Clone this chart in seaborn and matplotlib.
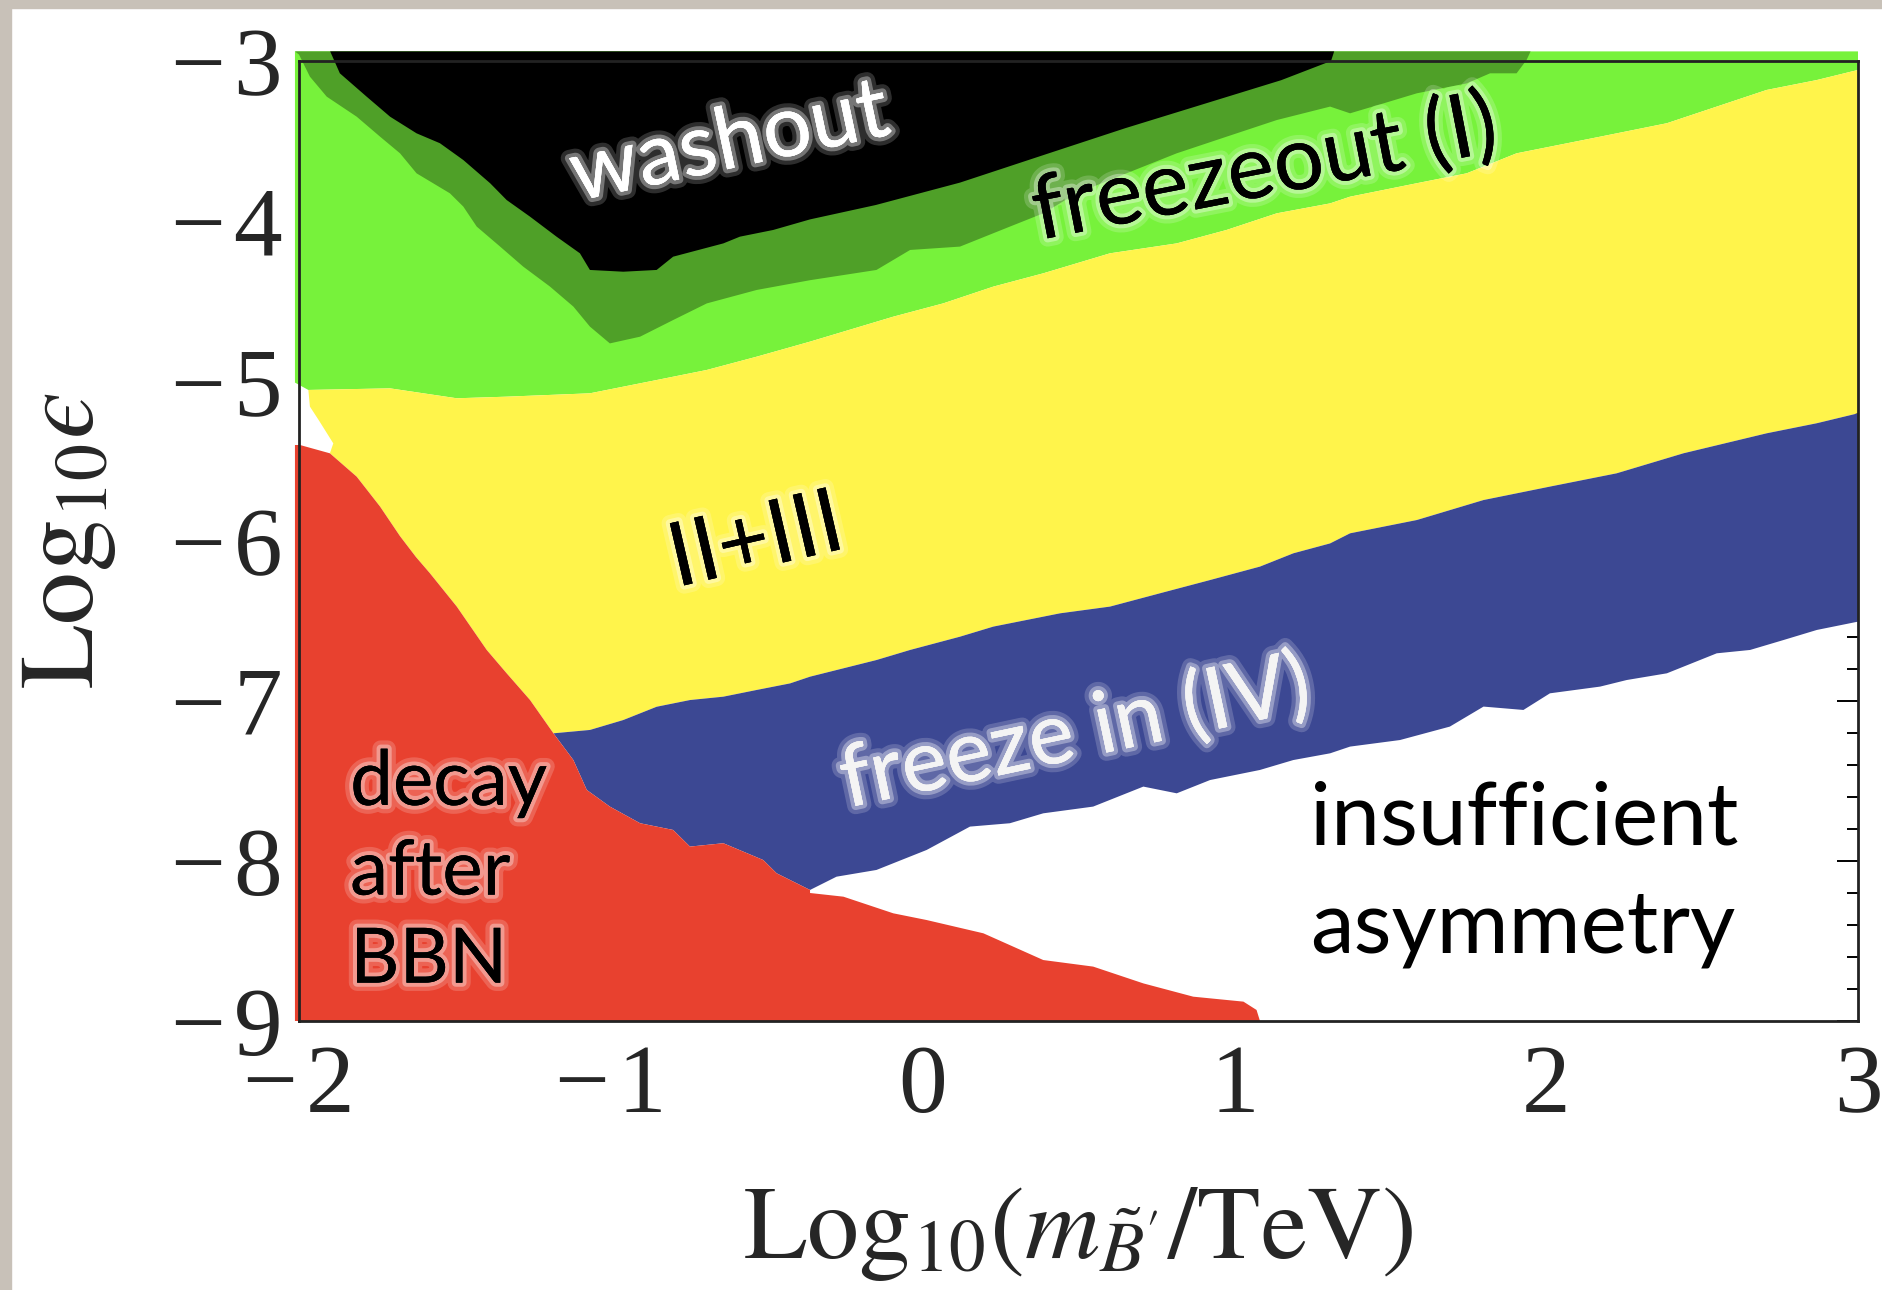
import matplotlib
matplotlib.use("Agg")
import matplotlib.pyplot as plt
import matplotlib.patheffects as pe
from matplotlib.patches import Rectangle
from matplotlib.ticker import MultipleLocator, FuncFormatter
import seaborn as sns
import numpy as np

# region boundaries, points are (log10 m, log10 eps)
# green / yellow interface
yel_top = [(-1.970, -5.056), (-1.708, -5.046), (-1.494, -5.108), (-1.334, -5.098),
           (-1.067, -5.077), (-0.853, -4.994), (-0.692, -4.931), (-0.532, -4.848),
           (-0.361, -4.754), (-0.094, -4.598), (0.066, -4.515), (0.227, -4.410),
           (0.387, -4.327), (0.601, -4.202), (0.815, -4.140), (0.975, -4.056),
           (1.136, -3.952), (1.307, -3.890), (1.371, -3.848), (1.585, -3.764),
           (1.745, -3.702), (1.905, -3.577), (2.173, -3.473), (2.387, -3.389),
           (2.547, -3.285), (2.707, -3.181), (2.868, -3.119), (3.000, -3.056)]
# yellow / blue interface
yel_bot = [(-1.184, -7.202), (-1.067, -7.181), (-0.960, -7.119), (-0.853, -7.036),
           (-0.746, -6.994), (-0.639, -6.973), (-0.532, -6.931), (-0.425, -6.890),
           (-0.361, -6.848), (-0.148, -6.744), (-0.040, -6.681), (0.120, -6.598),
           (0.227, -6.535), (0.441, -6.452), (0.601, -6.410), (0.761, -6.327),
           (0.922, -6.244), (1.082, -6.160), (1.189, -6.077), (1.307, -6.015),
           (1.371, -5.952), (1.585, -5.869), (1.799, -5.744), (2.012, -5.660),
           (2.226, -5.577), (2.440, -5.452), (2.707, -5.327), (2.868, -5.264),
           (3.000, -5.202)]
# white gap between axis and yellow
yel_left = [(-1.890, -5.390), (-1.935, -5.250), (-1.965, -5.160)]
# blue / white interface
blue_bot = [(-0.361, -8.181), (-0.276, -8.098), (-0.148, -8.056), (0.013, -7.931),
            (0.152, -7.785), (0.280, -7.764), (0.387, -7.702), (0.547, -7.660),
            (0.708, -7.535), (0.815, -7.577), (0.922, -7.494), (1.082, -7.431),
            (1.189, -7.369), (1.307, -7.327), (1.371, -7.285), (1.531, -7.244),
            (1.691, -7.160), (1.799, -7.035), (1.927, -7.056), (2.012, -6.952),
            (2.173, -6.910), (2.258, -6.869), (2.387, -6.827), (2.547, -6.702),
            (2.654, -6.681), (2.761, -6.619), (2.868, -6.556), (3.000, -6.504)]
# red edge: against yellow, against blue, against white
red_upper = [(-1.997, -5.400), (-1.901, -5.452), (-1.815, -5.598), (-1.740, -5.785),
             (-1.676, -5.970), (-1.625, -6.100), (-1.580, -6.202), (-1.494, -6.410),
             (-1.398, -6.681), (-1.334, -6.827), (-1.259, -6.994), (-1.184, -7.202)]
red_blue = [(-1.184, -7.202), (-1.120, -7.369), (-1.077, -7.556), (-1.003, -7.660),
            (-0.906, -7.764), (-0.800, -7.806), (-0.746, -7.910), (-0.639, -7.889),
            (-0.511, -7.994), (-0.468, -8.077), (-0.361, -8.181)]
red_white = [(-0.361, -8.200), (-0.254, -8.223), (-0.094, -8.327), (0.013, -8.369),
             (0.195, -8.452), (0.387, -8.619), (0.547, -8.660), (0.708, -8.765),
             (0.868, -8.848), (1.029, -8.879), (1.071, -8.931), (1.082, -9.000)]
# lower edge of the dark green band
dark_bot = [(-2.000, -2.960), (-1.965, -3.098), (-1.911, -3.223), (-1.815, -3.348),
            (-1.740, -3.473), (-1.676, -3.577), (-1.623, -3.702), (-1.516, -3.827),
            (-1.473, -3.910), (-1.430, -4.035), (-1.355, -4.160), (-1.281, -4.285),
            (-1.195, -4.410), (-1.120, -4.535), (-1.067, -4.660), (-1.003, -4.765),
            (-0.906, -4.723), (-0.800, -4.619), (-0.692, -4.515), (-0.532, -4.431),
            (-0.361, -4.370), (-0.148, -4.306), (-0.040, -4.181), (0.120, -4.160),
            (0.280, -4.035), (0.387, -3.952), (0.494, -3.827), (0.654, -3.702),
            (0.815, -3.577), (0.975, -3.473), (1.136, -3.369), (1.307, -3.285),
            (1.371, -3.327), (1.478, -3.265), (1.585, -3.202), (1.745, -3.140),
            (1.820, -3.077), (1.905, -3.077), (1.937, -2.994), (1.950, -2.940)]
# lower edge of washout
black_bot = [(-1.900, -2.940), (-1.869, -3.077), (-1.783, -3.223), (-1.708, -3.348),
             (-1.623, -3.452), (-1.548, -3.514), (-1.473, -3.619), (-1.387, -3.764),
             (-1.334, -3.869), (-1.259, -3.973), (-1.174, -4.098), (-1.099, -4.202),
             (-1.067, -4.306), (-0.960, -4.317), (-0.853, -4.306), (-0.800, -4.223),
             (-0.639, -4.140), (-0.586, -4.098), (-0.479, -4.056), (-0.361, -3.990),
             (-0.150, -3.900), (0.120, -3.760), (0.400, -3.580), (0.650, -3.420),
             (0.900, -3.270), (1.150, -3.120), (1.310, -3.000), (1.320, -2.940)]

# plot edges (dots spill a little past the frame at top and left)
x_lo, x_hi, y_lo, y_top = -2.013, 3.0, -9.0, -2.94

sns.set_theme(style="white")
plt.rcParams["font.family"] = ["Lato", "DejaVu Sans"]
plt.rcParams["mathtext.fontset"] = "stix"

fig = plt.figure(figsize=(18.83, 12.90), dpi=100)
fig.patches.append(Rectangle((0, 0), 11 / 1883, 1, transform=fig.transFigure,
                             color="#c8c1b8", zorder=0))
fig.patches.append(Rectangle((0, 1 - 8 / 1290), 1, 8 / 1290, transform=fig.transFigure,
                             color="#c8c1b8", zorder=0))
ax = fig.add_axes([0.15879, 0.20853, 0.82793, 0.74419])

A = np.array
green = np.vstack([[(x_lo, y_top), (x_hi, y_top)], A(yel_top)[::-1], [(x_lo, -5.01)]])
dark = np.vstack([[(x_lo, y_top)], A(dark_bot)])
black = A(black_bot)
yellow = np.vstack([A(yel_top), A(yel_bot)[::-1], A(red_upper)[:0:-1], A(yel_left)])
blue = np.vstack([A(yel_bot), A(blue_bot)[::-1], A(red_blue)[::-1]])
red = np.vstack([[(x_lo, y_lo), (x_lo, -5.40)], A(red_upper), A(red_blue)[1:], A(red_white)])

for poly, col in [(green, "#77f23b"), (dark, "#4fa028"), (black, "#000000"),
                  (yellow, "#fff44b"), (blue, "#3c4893"), (red, "#e8412f")]:
    ax.fill(poly[:, 0], poly[:, 1], color=col, lw=0, clip_on=False, zorder=1)

ax.set_xlim(-2, 3)
ax.set_ylim(-9, -3)
ax.xaxis.set_major_locator(MultipleLocator(1))
ax.yaxis.set_major_locator(MultipleLocator(1))
ax.xaxis.set_minor_locator(MultipleLocator(0.2))
ax.yaxis.set_minor_locator(MultipleLocator(0.2))
# minus with a hair space before the digit, as in the original tick labels
fmt = FuncFormatter(lambda v, p: f"\u2212\u200a{abs(round(v))}" if v < 0 else f"{round(v)}")
ax.xaxis.set_major_formatter(fmt)
ax.yaxis.set_major_formatter(fmt)
ax.tick_params(which="both", direction="in", top=True, right=True, color="black",
               width=1.4, labelsize=70)
for lab in ax.get_xticklabels() + ax.get_yticklabels():
    lab.set_fontfamily(["Liberation Serif", "DejaVu Serif"])
ax.tick_params(which="major", length=15)
ax.tick_params(which="minor", length=8)
ax.tick_params(axis="x", pad=17)
ax.tick_params(axis="y", pad=12)
for s in ax.spines.values():
    s.set_linewidth(2)
    s.set_color("#222222")
    s.set_zorder(3)

ax.set_xlabel(r"$\mathrm{Log}_{10}(m_{\tilde{B}^{\prime}}/\mathrm{TeV})$", fontsize=75)
ax.set_ylabel("$\\mathrm{Log}_{10}\u03f5$", fontsize=76)
ax.xaxis.set_label_coords(0.5, -0.171)
ax.yaxis.set_label_coords(-0.116, 0.5)

glow = [pe.withStroke(linewidth=12, foreground="white", alpha=0.18),
        pe.withStroke(linewidth=6, foreground="white", alpha=0.35), pe.Normal()]
kw = dict(rotation_mode="anchor", ha="center", va="baseline", zorder=4)
ax.text(-0.602, -3.666, "washout", color="white", fontsize=62, rotation=12,
        path_effects=glow, **kw)
ax.text(1.114, -3.838, "freezeout (I)", color="black", fontsize=64, rotation=11,
        path_effects=glow, **kw)
ax.text(-0.515, -6.165, "II+III", color="black", fontsize=64, rotation=13,
        path_effects=glow, **kw)
ax.text(0.508, -7.356, "freeze in (IV)", color="#f4f4f4", fontsize=62, rotation=12,
        path_effects=glow, **kw)
for txt, yy in [("decay", -7.65), ("after", -8.21), ("BBN", -8.76)]:
    ax.text(-1.836, yy, txt, color="black", fontsize=55, ha="left", va="baseline",
            zorder=4, path_effects=glow)
for txt, yy in [("insufficient", -7.90), ("asymmetry", -8.569)]:
    ax.text(1.243, yy, txt, color="black", fontsize=63, ha="left", va="baseline", zorder=4)

fig.savefig("out.png", dpi=100)
